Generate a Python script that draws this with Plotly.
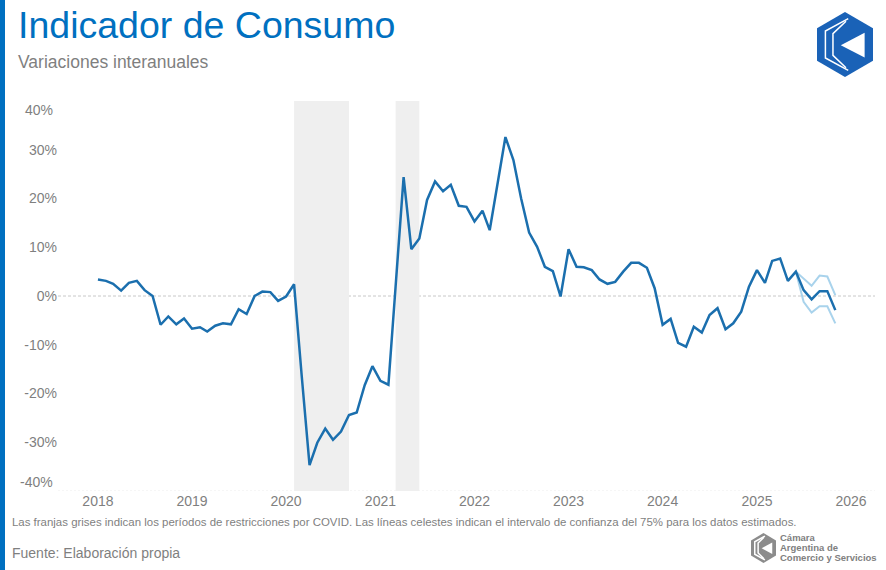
import plotly.graph_objects as go

# ---------------- data ----------------
start_year = 2018
consumo = [3.4, 3.1, 2.5, 1.1, 2.7, 3.1, 1.2, 0.0, -5.9, -4.2, -5.8, -4.6,
           -6.7, -6.4, -7.3, -6.1, -5.6, -5.8, -2.7, -3.7, 0.0, 0.9, 0.8, -1.0,
           -0.1, 2.4, -16.0, -34.7, -30.1, -27.2, -29.5, -27.8, -24.4, -23.9, -18.3, -14.4,
           -17.4, -18.2, 2.0, 24.4, 9.6, 11.8, 19.7, 23.5, 21.5, 22.8, 18.5, 18.3,
           15.3, 17.5, 13.5, 23.0, 32.6, 27.9, 20.0, 13.0, 10.1, 6.0, 5.1, -0.1,
           9.6, 6.0, 5.9, 5.3, 3.4, 2.5, 2.9, 5.0, 6.8, 6.8, 5.8, 1.6,
           -5.9, -4.7, -9.6, -10.4, -6.3, -7.5, -3.9, -2.5, -6.8, -5.6, -3.2, 1.9,
           5.3, 2.7, 7.2, 7.7, 3.1, 5.0, 1.2, -0.7, 1.0, 1.0, -2.9]
months = [f"{start_year + i // 12}-{i % 12 + 1:02d}-01" for i in range(len(consumo))]

ci_months = ["2025-06-01", "2025-07-01", "2025-08-01", "2025-09-01", "2025-10-01", "2025-11-01"]
ci_upper = [5.0, 3.6, 2.1, 4.2, 4.0, 0.2]
ci_lower = [5.0, -1.2, -3.4, -2.1, -2.1, -5.6]

covid_bands = [("2020-02-01", "2020-09-01"), ("2021-03-01", "2021-06-01")]

year_ticks = [f"{y}-01-01" for y in range(2018, 2027)]
year_labels = [str(y) for y in range(2018, 2027)]
y_ticks = [-30, -20, -10, 0, 10, 20, 30]
y_labels = ["-30%", "-20%", "-10%", "0%", "10%", "20%", "30%"]

# ---------------- layout geometry ----------------
W, H = 886, 570
L, R, T, B = 58, 875, 101, 491
PW, PH = R - L, B - T


def px(x):
    return (x - L) / PW


def py(y):
    return (B - y) / PH


FONT = "Liberation Sans, Arial, Helvetica, sans-serif"
GRAY = "#7F7F7F"
BLUE = "#0070C0"
LINE = "#1B6FAE"
CI = "#A9D3EC"

fig = go.Figure()

fig.add_trace(go.Scatter(x=ci_months, y=ci_upper, mode="lines",
                         line=dict(color=CI, width=2), hoverinfo="skip", showlegend=False))
fig.add_trace(go.Scatter(x=ci_months, y=ci_lower, mode="lines",
                         line=dict(color=CI, width=2), hoverinfo="skip", showlegend=False))
fig.add_trace(go.Scatter(x=months, y=consumo, mode="lines",
                         line=dict(color=LINE, width=2.5), showlegend=False))

shapes = []
for a, b in covid_bands:
    shapes.append(dict(type="rect", xref="x", yref="y", x0=a, x1=b, y0=-40, y1=40,
                       fillcolor="#EFEFEF", line=dict(width=0), layer="below"))
# zero line
shapes.append(dict(type="line", xref="paper", yref="y", x0=0, x1=1, y0=0, y1=0,
                   line=dict(color="#C8C8C8", width=1, dash="3px,2px"), layer="below"))
# faint bottom axis line
shapes.append(dict(type="line", xref="paper", yref="y", x0=0, x1=1, y0=-40, y1=-40,
                   line=dict(color="#ECECEC", width=1, dash="2px,2px"), layer="below"))
# left blue bar
shapes.append(dict(type="rect", xref="paper", yref="paper", x0=px(0), x1=px(5),
                   y0=py(H), y1=py(0), fillcolor=BLUE, line=dict(width=0)))


def path(points, close=True):
    s = "M " + " L ".join(f"{px(x):.5f},{py(y):.5f}" for x, y in points)
    return s + (" Z" if close else "")


def hex_logo(cx, cy, hw, hh, color):
    out = []
    q = hh * 0.5
    hexpts = [(cx, cy - hh), (cx + hw, cy - q), (cx + hw, cy + q),
              (cx, cy + hh), (cx - hw, cy + q), (cx - hw, cy - q)]
    out.append(dict(type="path", xref="paper", yref="paper", path=path(hexpts),
                    fillcolor=color, line=dict(width=0)))
    # white triangle (pointing left)
    tri = [(cx - 0.15 * hw, cy + 0.02 * hh), (cx + 0.70 * hw, cy - 0.36 * hh),
           (cx + 0.70 * hw, cy + 0.40 * hh)]
    out.append(dict(type="path", xref="paper", yref="paper", path=path(tri),
                    fillcolor="white", line=dict(width=0)))
    # white chevron stripes
    for k in (0.28, 0.55):
        pts = [(cx + (0.2 - k * 0.3) * hw, cy - hh * (0.88 - k * 0.3)),
               (cx - hw * (0.98 - k), cy - q * (1 - k * 0.6)),
               (cx - hw * (0.98 - k), cy + q * (1 - k * 0.6)),
               (cx + (0.2 - k * 0.3) * hw, cy + hh * (0.88 - k * 0.3))]
        out.append(dict(type="path", xref="paper", yref="paper", path=path(pts, close=False),
                        line=dict(color="white", width=1.5)))
    return out


shapes += hex_logo(845, 44.5, 28, 32.5, "#1A62B7")
shapes += hex_logo(763.5, 548, 12.5, 15, "#8C8C8C")

annotations = [
    dict(text="Indicador de Consumo", x=px(16), y=py(25), xref="paper", yref="paper",
         xanchor="left", yanchor="middle", showarrow=False,
         font=dict(family=FONT, size=37.5, color=BLUE)),
    dict(text="Variaciones interanuales", x=px(16), y=py(62), xref="paper", yref="paper",
         xanchor="left", yanchor="middle", showarrow=False,
         font=dict(family=FONT, size=17.5, color=GRAY)),
    dict(text="Las franjas grises indican los períodos de restricciones por COVID. "
              "Las líneas celestes indican el intervalo de confianza del 75% para los datos estimados.",
         x=px(10), y=py(522), xref="paper", yref="paper", xanchor="left", yanchor="middle",
         showarrow=False, font=dict(family=FONT, size=11.45, color=GRAY)),
    dict(text="Fuente: Elaboración propia", x=px(10), y=py(553), xref="paper", yref="paper",
         xanchor="left", yanchor="middle", showarrow=False,
         font=dict(family=FONT, size=14, color=GRAY)),
    dict(text="40%", x=px(55), y=40, xref="paper", yref="y", yshift=-9,
         xanchor="right", yanchor="middle", showarrow=False,
         font=dict(family=FONT, size=14, color=GRAY)),
    dict(text="-40%", x=px(55), y=-40, xref="paper", yref="y", yshift=9,
         xanchor="right", yanchor="middle", showarrow=False,
         font=dict(family=FONT, size=14, color=GRAY)),
]
for i, t in enumerate(["Cámara", "Argentina de", "Comercio y Servicios"]):
    annotations.append(dict(text=f"<b>{t}</b>", x=px(778), y=py(537.5 + 10 * i),
                            xref="paper", yref="paper", xanchor="left", yanchor="middle",
                            showarrow=False, font=dict(family=FONT, size=9.5, color="#808080")))

fig.update_layout(
    width=W, height=H,
    margin=dict(l=L, r=W - R, t=T, b=H - B, pad=0),
    paper_bgcolor="white", plot_bgcolor="white",
    font=dict(family=FONT, size=14, color=GRAY),
    shapes=shapes, annotations=annotations,
    xaxis=dict(type="date", range=["2017-07-30", "2026-04-04"],
               tickvals=year_ticks, ticktext=year_labels,
               showgrid=False, zeroline=False, showline=False, ticks="",
               tickfont=dict(family=FONT, size=14, color=GRAY), fixedrange=True),
    yaxis=dict(range=[-40, 40], tickvals=y_ticks, ticktext=y_labels,
               showgrid=False, zeroline=False, showline=False, ticks="",
               tickfont=dict(family=FONT, size=14, color=GRAY), fixedrange=True),
    showlegend=False,
)

fig.write_html("out.html", config={"displayModeBar": False},
               post_script="document.body.style.margin='0';document.body.style.overflow='hidden';")
